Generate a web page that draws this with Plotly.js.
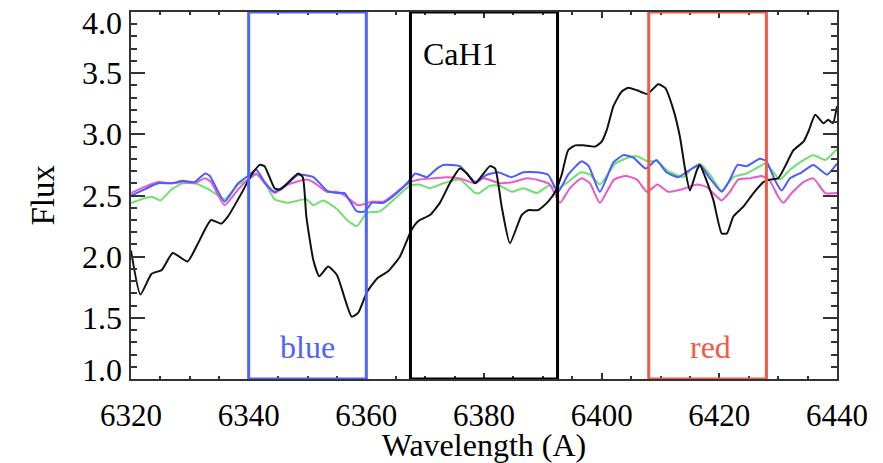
<!DOCTYPE html>
<html>
<head>
<meta charset="utf-8">
<script src="https://cdn.plot.ly/plotly-3.0.1.min.js"></script>
</head>
<body style="margin:0">
<div id="chart" style="width:883px;height:463px"></div>
<script>
// ---- data ----
const wlBlack = [6320, 6321.6, 6323.5, 6325.2, 6327.1, 6329.6, 6331.4, 6333.6, 6335.3, 6336.5, 6338.8, 6340.5, 6341.9, 6342.7, 6344.4, 6345.4, 6348.4, 6349.2, 6349.8, 6351.0, 6352.0, 6353.5, 6355.0, 6357.5, 6358.6, 6360.1, 6361.8, 6363.7, 6365.7, 6367.7, 6368.8, 6370.8, 6372.5, 6374.2, 6375.9, 6377.1, 6378.5, 6381.0, 6381.9, 6383.0, 6384.4, 6386.4, 6387.5, 6389.2, 6390.9, 6392.1, 6393.2, 6394.3, 6395.5, 6396.9, 6398.9, 6400.0, 6400.9, 6402.0, 6403.4, 6404.5, 6406.0, 6407.8, 6409.6, 6410.8, 6412.2, 6413.3, 6414.2, 6415.0, 6416.2, 6416.7, 6417.6, 6419.0, 6420.4, 6421.3, 6422.4, 6424.1, 6425.8, 6427.5, 6428.6, 6430.0, 6431.2, 6432.6, 6434.3, 6435.2, 6436.3, 6437.7, 6438.5, 6439.3, 6440];
const fluxBlack = [2.05, 1.69, 1.86, 1.89, 2.03, 1.96, 2.11, 2.30, 2.27, 2.33, 2.52, 2.67, 2.75, 2.74, 2.56, 2.55, 2.68, 2.65, 2.33, 1.97, 1.84, 1.92, 1.85, 1.51, 1.54, 1.71, 1.82, 1.88, 2.00, 2.22, 2.29, 2.34, 2.44, 2.60, 2.72, 2.68, 2.60, 2.74, 2.72, 2.41, 2.11, 2.34, 2.38, 2.38, 2.45, 2.53, 2.67, 2.87, 2.91, 2.91, 2.90, 2.94, 3.04, 3.23, 3.35, 3.38, 3.36, 3.33, 3.41, 3.38, 3.20, 2.98, 2.71, 2.54, 2.71, 2.75, 2.65, 2.46, 2.19, 2.19, 2.33, 2.41, 2.52, 2.61, 2.63, 2.64, 2.74, 2.87, 2.94, 3.03, 3.16, 3.09, 3.12, 3.09, 3.23];

const wlBlue = [6320, 6322.3, 6324.6, 6326.9, 6328.8, 6330.8, 6332.6, 6333.4, 6335.9, 6338.2, 6339.9, 6341.3, 6342.7, 6344.4, 6346.7, 6348.4, 6351.0, 6353.3, 6355.0, 6356.3, 6358.4, 6359.8, 6360.9, 6362.9, 6365.2, 6367.1, 6368.3, 6370.3, 6372.0, 6373.1, 6375.9, 6378.5, 6380.5, 6382.4, 6384.7, 6386.7, 6389.0, 6390.9, 6392.6, 6394.3, 6396.6, 6397.8, 6399.7, 6402.0, 6403.7, 6405.4, 6407.5, 6409.3, 6411.0, 6413.0, 6415.0, 6416.7, 6418.4, 6420.4, 6421.8, 6423.1, 6424.6, 6426.9, 6428.0, 6429.4, 6430.6, 6432.0, 6434.0, 6436.0, 6438.3, 6440];
const fluxBlue = [2.50, 2.55, 2.60, 2.60, 2.62, 2.61, 2.68, 2.66, 2.45, 2.60, 2.66, 2.71, 2.61, 2.53, 2.60, 2.67, 2.65, 2.54, 2.52, 2.52, 2.37, 2.37, 2.44, 2.44, 2.52, 2.61, 2.68, 2.65, 2.72, 2.75, 2.74, 2.61, 2.67, 2.69, 2.65, 2.69, 2.69, 2.67, 2.53, 2.67, 2.78, 2.74, 2.53, 2.77, 2.83, 2.81, 2.72, 2.79, 2.69, 2.65, 2.71, 2.75, 2.64, 2.53, 2.63, 2.75, 2.74, 2.80, 2.78, 2.63, 2.54, 2.64, 2.69, 2.75, 2.67, 2.76];

const wlMagenta = [6320, 6322.3, 6324.6, 6326.9, 6328.8, 6330.8, 6332.6, 6333.6, 6335.9, 6338.2, 6339.9, 6341.3, 6342.7, 6344.4, 6346.7, 6349.8, 6351.0, 6353.3, 6355.0, 6356.3, 6358.6, 6360.9, 6362.9, 6365.2, 6367.1, 6369.0, 6371.4, 6373.6, 6375.9, 6378.5, 6379.9, 6382.7, 6385.0, 6387.3, 6389.6, 6391.2, 6392.9, 6394.6, 6396.6, 6398.0, 6399.7, 6402.1, 6404.1, 6406.0, 6407.7, 6409.5, 6411.3, 6413.6, 6416.2, 6417.8, 6420.4, 6421.8, 6423.2, 6425.2, 6427.2, 6428.6, 6430.0, 6430.9, 6432.3, 6434.3, 6436.0, 6438.0, 6440];
const fluxMagenta = [2.52, 2.57, 2.61, 2.60, 2.61, 2.60, 2.64, 2.61, 2.42, 2.55, 2.63, 2.68, 2.60, 2.52, 2.59, 2.63, 2.61, 2.53, 2.53, 2.50, 2.42, 2.45, 2.45, 2.53, 2.60, 2.63, 2.64, 2.65, 2.64, 2.60, 2.64, 2.60, 2.61, 2.64, 2.62, 2.59, 2.44, 2.56, 2.64, 2.60, 2.44, 2.63, 2.66, 2.63, 2.53, 2.59, 2.53, 2.55, 2.59, 2.57, 2.46, 2.53, 2.63, 2.64, 2.66, 2.62, 2.49, 2.44, 2.52, 2.61, 2.64, 2.52, 2.52];

const wlGreen = [6320, 6321.8, 6323.5, 6325.0, 6326.9, 6328.8, 6330.8, 6332.8, 6334.2, 6335.9, 6338.2, 6339.9, 6341.3, 6342.7, 6344.4, 6346.7, 6349.8, 6351.0, 6352.7, 6355.0, 6356.7, 6358.4, 6360.1, 6362.3, 6365.2, 6367.4, 6369.0, 6370.8, 6373.1, 6375.9, 6378.5, 6379.2, 6381.0, 6382.7, 6384.7, 6386.7, 6389.0, 6391.0, 6392.5, 6394.0, 6396.5, 6398.0, 6399.7, 6402.3, 6404.5, 6406.0, 6407.8, 6409.4, 6411.3, 6413.9, 6415.3, 6416.7, 6418.4, 6420.4, 6422.4, 6424.6, 6426.9, 6427.8, 6429.2, 6430.3, 6432.0, 6434.3, 6436.0, 6438.0, 6440];
const fluxGreen = [2.44, 2.47, 2.49, 2.46, 2.55, 2.60, 2.60, 2.56, 2.52, 2.47, 2.59, 2.63, 2.67, 2.61, 2.47, 2.44, 2.47, 2.42, 2.46, 2.39, 2.30, 2.25, 2.36, 2.37, 2.49, 2.58, 2.59, 2.56, 2.60, 2.63, 2.52, 2.52, 2.58, 2.58, 2.53, 2.56, 2.52, 2.58, 2.56, 2.60, 2.69, 2.67, 2.59, 2.76, 2.81, 2.82, 2.78, 2.78, 2.70, 2.65, 2.72, 2.76, 2.67, 2.54, 2.65, 2.68, 2.74, 2.76, 2.69, 2.63, 2.71, 2.79, 2.83, 2.79, 2.88];

// band windows (Angstrom)
const bandNames = ["blue", "CaH1", "red"];
const bandStart = [6340, 6367.5, 6408];
const bandEnd = [6360, 6392.5, 6428];
const bandLabelX = [6350, 6376, 6418.5];
const bandLabelY = [1.26, 3.66, 1.26];

const xRange = [6320, 6440];
const yRange = [1.0, 4.0];
const yTickVals = [1.0, 1.5, 2.0, 2.5, 3.0, 3.5, 4.0];
const yTickText = ["1.0", "1.5", "2.0", "2.5", "3.0", "3.5", "4.0"];
const xTitle = "Wavelength (A)";
const yTitle = "Flux";

// ---- styles ----
const SERIF = "Liberation Serif";
const bandColors = ["#4f63ff", "#000000", "#f25a48"];
const lineColors = {black: "#111111", blue: "#4a5cff", magenta: "#e85ac8", green: "#70e070"};

function tr(x, y, c) {
  return {x: x, y: y, type: "scatter", mode: "lines",
    line: {color: c, width: 2, shape: "spline", smoothing: 0.5},
    hoverinfo: "skip", showlegend: false};
}
const traces = [
  tr(wlGreen, fluxGreen, lineColors.green),
  tr(wlMagenta, fluxMagenta, lineColors.magenta),
  tr(wlBlue, fluxBlue, lineColors.blue),
  tr(wlBlack, fluxBlack, lineColors.black)
];

const shapes = bandNames.map((n, i) => ({
  type: "rect", xref: "x", yref: "y", x0: bandStart[i], x1: bandEnd[i], y0: yRange[0], y1: yRange[1],
  line: {color: bandColors[i], width: 3}, fillcolor: "rgba(0,0,0,0)", layer: "above"
}));

const annotations = bandNames.map((n, i) => ({
  x: bandLabelX[i], y: bandLabelY[i], xref: "x", yref: "y", text: n, showarrow: false,
  font: {family: SERIF, size: 32, color: bandColors[i]}, xanchor: "center", yanchor: "middle"
}));

// y tick labels drawn IDL-style (end labels nudged inside the frame)
yTickVals.forEach((v, i) => {
  let shift = 0;
  if (i === 0) shift = 9;
  if (i === yTickVals.length - 1) shift = -11;
  annotations.push({
    x: 0, xref: "paper", y: v, yref: "y", text: yTickText[i], showarrow: false,
    xanchor: "right", yanchor: "middle", xshift: -7, yshift: shift,
    font: {family: SERIF, size: 32, color: "#000"}
  });
});
annotations.push({
  x: 0, xref: "paper", y: 0.5, yref: "paper", text: yTitle, showarrow: false, textangle: -90,
  xanchor: "center", yanchor: "middle", xshift: -89,
  font: {family: SERIF, size: 33, color: "#000"}
});

const layout = {
  width: 883, height: 463,
  margin: {l: 131, r: 46, t: 12, b: 84},
  paper_bgcolor: "#fff", plot_bgcolor: "#fff",
  font: {family: SERIF, size: 32, color: "#000"},
  xaxis: {
    range: xRange, dtick: 20, tick0: 6320, showgrid: false, zeroline: false,
    showline: true, linecolor: "#333", linewidth: 2, mirror: "allticks",
    ticks: "inside", ticklen: 6, tickwidth: 1.5, tickcolor: "#333",
    minor: {dtick: 5, ticks: "inside", ticklen: 3, tickcolor: "#333", tickwidth: 1.5, showgrid: false},
    tickfont: {family: SERIF, size: 31, color: "#000"},
    ticklabelstandoff: 8,
    automargin: false,
    title: {text: xTitle, font: {family: SERIF, size: 32, color: "#000"}, standoff: 16}
  },
  yaxis: {
    range: yRange, dtick: 0.5, tick0: 1, showticklabels: false, showgrid: false, zeroline: false,
    showline: true, linecolor: "#333", linewidth: 2, mirror: "allticks",
    ticks: "inside", ticklen: 14, tickwidth: 1.5, tickcolor: "#333",
    minor: {dtick: 0.1, ticks: "inside", ticklen: 6, tickcolor: "#333", tickwidth: 1.5, showgrid: false}
  },
  shapes: shapes,
  annotations: annotations,
  showlegend: false
};

Plotly.newPlot("chart", traces, layout, {displayModeBar: false});
</script>
</body>
</html>
